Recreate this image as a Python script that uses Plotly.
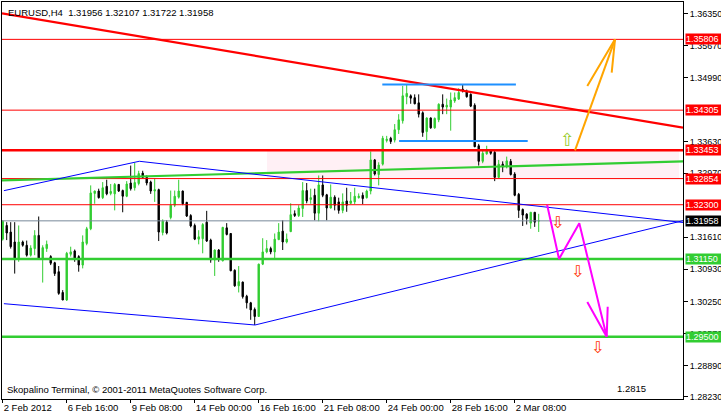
import plotly.graph_objects as go

# ---------------- data ----------------
bar_idx = list(range(135))

opens = [1.3157, 1.3186, 1.3172, 1.3151, 1.3116, 1.3151, 1.3144, 1.3123, 1.3137, 1.3165,
         1.3116, 1.3137, 1.3120, 1.3107, 1.3088, 1.3044, 1.3028, 1.3125, 1.3132, 1.3120,
         1.3102, 1.3148, 1.3179, 1.3254, 1.3259, 1.3245, 1.3269, 1.3254, 1.3253, 1.3273,
         1.3260, 1.3248, 1.3276, 1.3266, 1.3275, 1.3297, 1.3288, 1.3278, 1.3259, 1.3262,
         1.3171, 1.3193, 1.3203, 1.3229, 1.3246, 1.3259, 1.3235, 1.3207, 1.3186, 1.3157,
         1.3158, 1.3193, 1.3155, 1.3113, 1.3134, 1.3111, 1.3181, 1.3169, 1.3091, 1.3058,
         1.3066, 1.3036, 1.3022, 1.3008, 1.2993, 1.3104, 1.3130, 1.3137, 1.3130, 1.3156,
         1.3174, 1.3151, 1.3173, 1.3211, 1.3207, 1.3222, 1.3260, 1.3241, 1.3250, 1.3212,
         1.3272, 1.3251, 1.3223, 1.3246, 1.3236, 1.3218, 1.3238, 1.3233, 1.3236, 1.3245,
         1.3250, 1.3245, 1.3259, 1.3325, 1.3294, 1.3316, 1.3366, 1.3371, 1.3367, 1.3389,
         1.3408, 1.3459, 1.3461, 1.3457, 1.3446, 1.3425, 1.3385, 1.3414, 1.3393, 1.3410,
         1.3443, 1.3437, 1.3437, 1.3450, 1.3454, 1.3475, 1.3471, 1.3464, 1.3441, 1.3355,
         1.3322, 1.3338, 1.3345, 1.3341, 1.3288, 1.3316, 1.3310, 1.3322, 1.3295, 1.3252,
         1.3220, 1.3210, 1.3191, 1.3214, 1.31956]
highs = [1.3197, 1.3193, 1.3193, 1.3193, 1.3186, 1.3154, 1.3154, 1.3144, 1.3176, 1.3205,
         1.3144, 1.3154, 1.3123, 1.3109, 1.3100, 1.3049, 1.3130, 1.3141, 1.3135, 1.3123,
         1.3165, 1.3183, 1.3271, 1.3260, 1.3264, 1.3278, 1.3283, 1.3274, 1.3276, 1.3274,
         1.3262, 1.3280, 1.3313, 1.3319, 1.3302, 1.3302, 1.3292, 1.3281, 1.3286, 1.3264,
         1.3199, 1.3197, 1.3260, 1.3260, 1.3283, 1.3260, 1.3236, 1.3210, 1.3190, 1.3176,
         1.3191, 1.3217, 1.3158, 1.3135, 1.3136, 1.3183, 1.3191, 1.3170, 1.3093, 1.3100,
         1.3067, 1.3039, 1.3024, 1.3012, 1.3105, 1.3159, 1.3155, 1.3141, 1.3169, 1.3191,
         1.3197, 1.3169, 1.3233, 1.3218, 1.3229, 1.3278, 1.3276, 1.3264, 1.3264, 1.3292,
         1.3292, 1.3253, 1.3273, 1.3250, 1.3245, 1.3254, 1.3266, 1.3257, 1.3266, 1.3254,
         1.3256, 1.3262, 1.3343, 1.3327, 1.3320, 1.3376, 1.3376, 1.3374, 1.3401, 1.3422,
         1.3482, 1.3484, 1.3464, 1.3464, 1.3464, 1.3428, 1.3415, 1.3415, 1.3415, 1.3445,
         1.3464, 1.3455, 1.3468, 1.3468, 1.3477, 1.3484, 1.3474, 1.3466, 1.3445, 1.3359,
         1.3345, 1.3355, 1.3348, 1.3345, 1.3325, 1.3322, 1.3332, 1.3327, 1.3299, 1.3255,
         1.3222, 1.3212, 1.3214, 1.3214, 1.32107]
lows = [1.3154, 1.3155, 1.3137, 1.3084, 1.3109, 1.3141, 1.3120, 1.3120, 1.3123, 1.3113,
        1.3065, 1.3130, 1.3102, 1.3079, 1.3039, 1.3028, 1.3026, 1.3120, 1.3109, 1.3088,
        1.3095, 1.3144, 1.3176, 1.3232, 1.3243, 1.3242, 1.3250, 1.3250, 1.3218, 1.3257,
        1.3214, 1.3246, 1.3260, 1.3260, 1.3271, 1.3286, 1.3271, 1.3253, 1.3236, 1.3153,
        1.3165, 1.3167, 1.3199, 1.3225, 1.3243, 1.3229, 1.3204, 1.3182, 1.3155, 1.3146,
        1.3127, 1.3151, 1.3107, 1.3079, 1.3109, 1.3110, 1.3165, 1.3089, 1.3056, 1.3044,
        1.3031, 1.3010, 1.2986, 1.2975, 1.2993, 1.3102, 1.3127, 1.3125, 1.3116, 1.3155,
        1.3134, 1.3148, 1.3172, 1.3204, 1.3204, 1.3204, 1.3233, 1.3232, 1.3197, 1.3195,
        1.3246, 1.3197, 1.3222, 1.3218, 1.3211, 1.3212, 1.3215, 1.3231, 1.3231, 1.3243,
        1.3231, 1.3243, 1.3252, 1.3292, 1.3271, 1.3313, 1.3362, 1.3359, 1.3362, 1.3380,
        1.3402, 1.3443, 1.3444, 1.3443, 1.3415, 1.3374, 1.3365, 1.3391, 1.3391, 1.3405,
        1.3422, 1.3422, 1.3387, 1.3446, 1.3452, 1.3468, 1.3457, 1.3437, 1.3352, 1.3313,
        1.3318, 1.3336, 1.3336, 1.3280, 1.3287, 1.3299, 1.3307, 1.3292, 1.3248, 1.3202,
        1.3185, 1.3188, 1.3179, 1.3183, 1.31722]
closes = [1.3195, 1.3170, 1.3141, 1.3116, 1.3151, 1.3144, 1.3123, 1.3138, 1.3165, 1.3116,
          1.3139, 1.3146, 1.3106, 1.3084, 1.3042, 1.3028, 1.3127, 1.3130, 1.3116, 1.3102,
          1.3151, 1.3179, 1.3255, 1.3259, 1.3245, 1.3266, 1.3253, 1.3258, 1.3273, 1.3259,
          1.3248, 1.3274, 1.3264, 1.3277, 1.3296, 1.3288, 1.3276, 1.3259, 1.3262, 1.3172,
          1.3195, 1.3170, 1.3229, 1.3248, 1.3259, 1.3232, 1.3206, 1.3185, 1.3157, 1.3162,
          1.3188, 1.3153, 1.3113, 1.3134, 1.3114, 1.3182, 1.3167, 1.3090, 1.3058, 1.3067,
          1.3035, 1.3022, 1.3007, 1.2993, 1.3104, 1.3130, 1.3137, 1.3130, 1.3157, 1.3172,
          1.3151, 1.3157, 1.3209, 1.3207, 1.3223, 1.3260, 1.3238, 1.3245, 1.3212, 1.3272,
          1.3250, 1.3223, 1.3246, 1.3229, 1.3218, 1.3236, 1.3229, 1.3238, 1.3248, 1.3248,
          1.3243, 1.3259, 1.3325, 1.3295, 1.3314, 1.3371, 1.3369, 1.3364, 1.3389, 1.3410,
          1.3461, 1.3466, 1.3456, 1.3444, 1.3422, 1.3383, 1.3414, 1.3393, 1.3413, 1.3443,
          1.3437, 1.3441, 1.3452, 1.3457, 1.3468, 1.3471, 1.3459, 1.3439, 1.3353, 1.3322,
          1.3339, 1.3346, 1.3339, 1.3288, 1.3316, 1.3310, 1.3323, 1.3294, 1.3250, 1.3218,
          1.3208, 1.3201, 1.3214, 1.3193, 1.31958]

x_tick_idx = [0, 16, 32, 48, 64, 80, 96, 112, 128]
x_tick_text = ["2 Feb 2012", "6 Feb 16:00", "9 Feb 08:00", "14 Feb 00:00", "16 Feb 16:00",
               "21 Feb 08:00", "24 Feb 00:00", "28 Feb 16:00", "2 Mar 08:00"]

y_tick_vals = [1.3635, 1.3567, 1.3499, 1.3363, 1.3297,
               1.3161, 1.3093, 1.3025, 1.2957, 1.2889, 1.2823]
y_tick_text = ["1.36350", "1.35670", "1.34990", "1.33630", "1.32970",
               "1.31610", "1.30930", "1.30250", "1.29570", "1.28890", "1.28230"]

x_range = [-0.175, 170.075]
y_range = [1.28181, 1.36598]

red_levels = [1.35806, 1.34305, 1.32854, 1.32300]
thick_red_level = 1.33453
green_levels = [1.31150, 1.29500]
bid_level = 1.31958

red_trend_x = [-0.175, 170.075]
red_trend_y = [1.36358, 1.33933]
green_trend_x = [-0.175, 170.075]
green_trend_y = [1.32818, 1.33217]
blue_upper_x = [0.3, 34.15, 170.075]
blue_upper_y = [1.32598, 1.33221, 1.31923]
blue_lower_x = [0.3, 63.08, 170.075]
blue_lower_y = [1.30202, 1.29750, 1.31962]
range_top_x = [94.9, 128.3]
range_top_y = [1.3485, 1.3485]
range_bot_x = [99.1, 131.25]
range_bot_y = [1.3365, 1.3365]
zone_x = [66.07, 169.07]
zone_y = [1.32854, 1.33453]

orange_x = [143.08, 153.08]
orange_y = [1.33453, 1.35806]
orange_head_x = [146.15, 153.08, 152.25]
orange_head_y = [1.34817, 1.35806, 1.35099]
magenta_x = [136.1, 139.08, 144.15, 151.0]
magenta_y = [1.3230, 1.3115, 1.31906, 1.2950]
magenta_head_x = [146.15, 151.0, 151.25]
magenta_head_y = [1.30238, 1.2950, 1.30138]

up_arrow_pos = [(141.3, 1.33679)]
down_arrow_pos = [(138.7, 1.31920), (143.7, 1.30885), (148.7, 1.29273)]

price_labels = [("1.35806", 1.35806, "#FF0000"), ("1.34305", 1.34305, "#FF0000"),
                ("1.33453", 1.33453, "#FF0000"), ("1.32854", 1.32854, "#FF0000"),
                ("1.32300", 1.32300, "#FF0000"), ("1.31958", 1.31958, "#000000"),
                ("1.31150", 1.31150, "#32CD32"), ("1.29500", 1.29500, "#32CD32")]

title_text = "EURUSD,H4  1.31956 1.32107 1.31722 1.31958"
copyright_text = "Skopalino Terminal, \u00a9 2001-2011 MetaQuotes Software Corp."
target_text = "1.2815"
target_pos = (153.1, 1.2840)

FONT = "Liberation Sans"
FS = 9.5
FS_AXIS = 9

# ---------------- figure ----------------
fig = go.Figure()

fig.add_trace(go.Candlestick(
    x=bar_idx, open=opens, high=highs, low=lows, close=closes,
    increasing=dict(line=dict(color="#32CD32", width=1), fillcolor="#32CD32"),
    decreasing=dict(line=dict(color="#000000", width=1), fillcolor="#000000"),
    whiskerwidth=0, hoverinfo="skip", showlegend=False))


def line(xs, ys, color, width):
    fig.add_trace(go.Scatter(x=xs, y=ys, mode="lines",
                             line=dict(color=color, width=width),
                             hoverinfo="skip", showlegend=False))


for lv in red_levels:
    line(x_range, [lv, lv], "#FF0000", 1)
line(x_range, [thick_red_level, thick_red_level], "#FF0000", 2.5)
line(x_range, [bid_level, bid_level], "#778899", 1)
for lv in green_levels:
    line(x_range, [lv, lv], "#32CD32", 2.5)
line(red_trend_x, red_trend_y, "#FF0000", 2.2)
line(green_trend_x, green_trend_y, "#32CD32", 2.2)
line(blue_upper_x, blue_upper_y, "#0000FF", 1)
line(blue_lower_x, blue_lower_y, "#0000FF", 1)
line(range_top_x, range_top_y, "#1E90FF", 2)
line(range_bot_x, range_bot_y, "#1E90FF", 2)
line(orange_x, orange_y, "#FFA500", 2)
line(orange_head_x, orange_head_y, "#FFA500", 2)
line(magenta_x, magenta_y, "#FF00FF", 2)
line(magenta_head_x, magenta_head_y, "#FF00FF", 2)

fig.add_shape(type="rect", x0=zone_x[0], x1=zone_x[1], y0=zone_y[0], y1=zone_y[1],
              xref="x", yref="y", fillcolor="#FFF0F5", line=dict(width=0), layer="below")

annotations = []
for (ax, ay) in up_arrow_pos:
    annotations.append(dict(x=ax, y=ay, xref="x", yref="y", text="\u21e7", showarrow=False,
                            font=dict(family="DejaVu Sans", size=18, color="#9ACD32")))
for (ax, ay) in down_arrow_pos:
    annotations.append(dict(x=ax, y=ay, xref="x", yref="y", text="\u21e9", showarrow=False,
                            font=dict(family="DejaVu Sans", size=16, color="#FF3300")))
for txt, val, col in price_labels:
    annotations.append(dict(x=1, y=val, xref="paper", yref="y", text=txt, showarrow=False,
                            xanchor="left", yanchor="middle", xshift=2, width=38, align="left",
                            bgcolor=col, borderpad=0,
                            font=dict(family=FONT, size=FS_AXIS, color="#FFFFFF")))
annotations.append(dict(x=0, y=1, xref="paper", yref="paper", text=title_text, showarrow=False,
                        xanchor="left", yanchor="top", xshift=4, yshift=-3,
                        font=dict(family=FONT, size=FS, color="#000000")))
annotations.append(dict(x=0, y=0, xref="paper", yref="paper", text=copyright_text,
                        showarrow=False, xanchor="left", yanchor="bottom", xshift=3, yshift=2,
                        font=dict(family=FONT, size=FS, color="#000000")))
annotations.append(dict(x=target_pos[0], y=target_pos[1], xref="x", yref="y", text=target_text,
                        showarrow=False, xanchor="left", yanchor="middle",
                        font=dict(family=FONT, size=FS, color="#000000")))

fig.update_layout(
    width=721, height=416,
    margin=dict(l=2, r=38, t=2, b=17, autoexpand=False),
    paper_bgcolor="#FFFFFF", plot_bgcolor="#FFFFFF",
    boxgap=0.5,
    showlegend=False,
    annotations=annotations,
    font=dict(family=FONT, size=FS, color="#000000"),
    xaxis=dict(range=x_range, autorange=False, rangeslider=dict(visible=False),
               automargin=False,
               tickmode="array", tickvals=x_tick_idx, ticktext=x_tick_text,
               ticks="outside", ticklen=3, tickcolor="#000000", tickangle=0,
               ticklabelposition="outside right",
               showgrid=False, zeroline=False, showline=True, mirror=True,
               linecolor="#000000", linewidth=1,
               tickfont=dict(family=FONT, size=FS, color="#000000")),
    yaxis=dict(range=y_range, autorange=False, side="right", automargin=False,
               tickmode="array", tickvals=y_tick_vals, ticktext=y_tick_text,
               ticks="outside", ticklen=4, tickcolor="#000000",
               showgrid=False, zeroline=False, showline=True, mirror=True,
               linecolor="#000000", linewidth=1,
               tickfont=dict(family=FONT, size=FS_AXIS, color="#000000")),
)

fig.write_html("out.html", config={"displayModeBar": False},
               post_script="document.body.style.margin='0';document.body.style.overflow='hidden';")
